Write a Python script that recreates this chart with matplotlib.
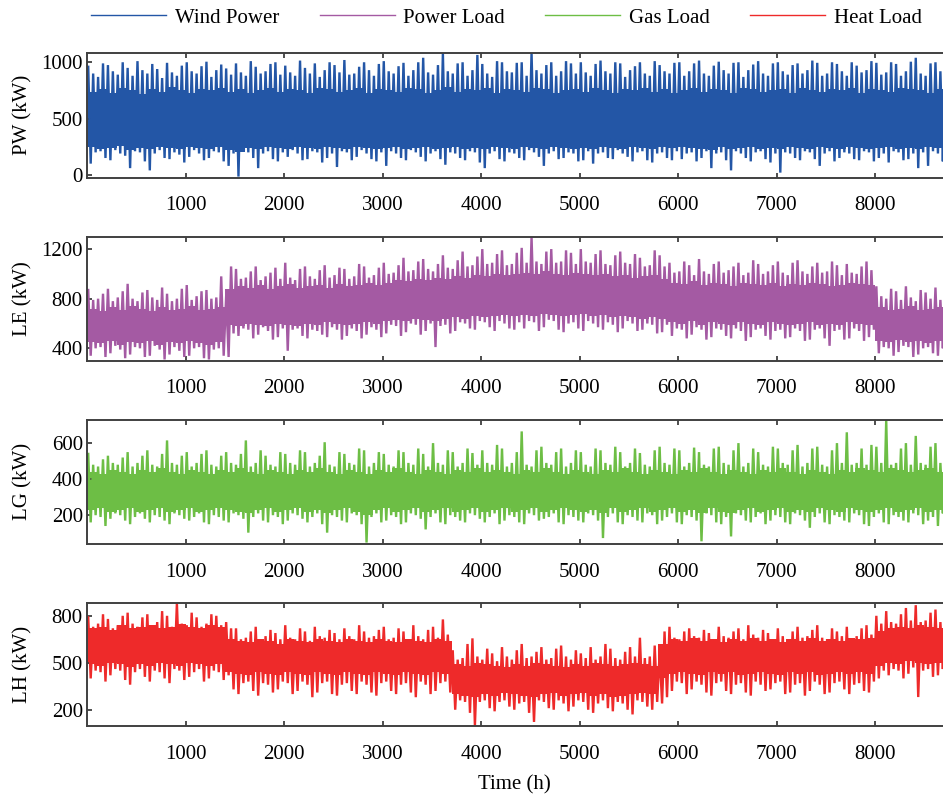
import numpy as np
import matplotlib
matplotlib.use("Agg")
import matplotlib.pyplot as plt
from matplotlib.lines import Line2D

# ---------------- data ----------------
# spike extremes per 50-hour block, dense core band per 100-hour block
spike_hours = 50
core_hours = 100

# Wind power PW (kW)
pw_hi = [960, 900, 870, 990, 975, 920, 890, 1000, 950, 880, 1010, 930, 900, 985, 940, 860, 995, 910, 880, 970,
         1000, 920, 900, 965, 1005, 870, 930, 980, 945, 890, 990, 910, 880, 1010, 960, 900, 920, 985, 1000, 890,
         970, 910, 880, 1015, 950, 900, 990, 870, 930, 1000, 975, 910, 1020, 890, 900, 960, 1000, 930, 880, 985,
         1010, 920, 900, 965, 995, 880, 930, 1000, 1040, 910, 890, 975, 1080, 920, 900, 990, 1000, 880, 930, 1065,
         985, 900, 870, 1010, 1000, 920, 910, 995, 1000, 880, 1085, 930, 900, 975, 1000, 880, 920, 1010, 990, 900,
         1000, 910, 880, 985, 1015, 920, 900, 1000, 990, 870, 930, 965, 1000, 900, 880, 1010, 975, 920, 900, 995,
         1000, 880, 920, 990, 1015, 900, 880, 970, 1005, 930, 900, 995, 1000, 870, 930, 980, 1010, 900, 880, 990,
         1000, 920, 890, 975, 990, 900, 930, 1015, 995, 880, 900, 1000, 985, 920, 880, 1000, 970, 910, 930, 1010,
         995, 890, 910, 1000, 985, 880, 920, 1005, 1040, 900, 880, 990, 1000, 920, 910, 1005]
pw_lo = [100, 200, 210, 150, 130, 220, 190, 170, 60, 210, 200, 120, 40, 190, 220, 150, 140, 200, 180, 110,
         160, 220, 190, 130, 150, 210, 200, 120, 80, 190, -15, 210, 200, 150, 60, 190, 210, 140, 120, 200,
         160, 220, 190, 130, 140, 210, 200, 110, 150, 190, 70, 210, 200, 130, 160, 220, 190, 140, 120, 200,
         80, 210, 190, 150, 130, 220, 200, 160, 120, 190, 210, 140, 90, 200, 190, 150, 130, 210, 200, 110,
         60, 190, 210, 140, 120, 200, 190, 150, 130, 220, 200, 160, 80, 190, 210, 140, 150, 200, 190, 120,
         130, 210, 100, 190, 200, 150, 140, 220, 190, 160, 120, 200, 210, 130, 110, 190, 200, 150, 130, 210,
         140, 190, 200, 120, 150, 210, 60, 190, 200, 130, 40, 210, 190, 150, 120, 200, 210, 140, 110, 190,
         20, 200, 190, 150, 130, 210, 200, 140, 80, 190, 210, 120, 150, 200, 190, 140, 130, 210, 200, 120,
         150, 190, 110, 210, 200, 130, 140, 190, 60, 200, 80, 210, 190, 120, 150, 200]
pw_core_hi = [740, 760, 730, 770, 750, 720, 760, 740, 780, 750,
              730, 760, 750, 770, 740, 760, 730, 750, 770, 740,
              760, 750, 730, 770, 760, 740, 750, 770, 730, 760,
              750, 740, 770, 760, 730, 750, 780, 740, 760, 750,
              770, 730, 760, 750, 740, 770, 760, 730, 750, 760,
              740, 770, 750, 730, 760, 750, 770, 740, 760, 730,
              750, 770, 740, 760, 750, 730, 770, 760, 740, 750,
              760, 730, 770, 750, 740, 760, 750, 770, 730, 760,
              750, 740, 770, 760, 750, 730, 760, 750]
pw_core_lo = [250, 230, 240, 260, 220, 240, 230, 250, 240, 230,
              250, 240, 230, 250, 220, 200, 240, 230, 250, 240,
              230, 250, 240, 230, 250, 240, 230, 250, 240, 230,
              240, 250, 230, 240, 250, 230, 240, 250, 230, 240,
              230, 250, 240, 230, 250, 240, 230, 250, 240, 230,
              240, 230, 250, 240, 230, 250, 240, 230, 250, 240,
              250, 240, 230, 220, 250, 230, 240, 250, 230, 240,
              230, 250, 240, 230, 250, 240, 230, 250, 240, 230,
              240, 250, 230, 240, 230, 250, 240, 230]

# Power load LE (kW)
le_hi = [870, 790, 800, 840, 880, 780, 810, 860, 920, 800, 780, 850, 870, 810,
         790, 890, 840, 780, 800, 880, 910, 790, 820, 860, 870, 800, 810, 980,
         820, 1060,
         1040, 960, 970, 1020, 1060, 950, 980, 1010, 1050, 960, 1090, 970, 950, 1040, 1060, 980,
         960, 1030, 1070, 970, 990, 1050, 1040, 960, 980, 1080, 1060, 970, 990, 1050,
         1090, 1000, 1010, 1070, 1130, 1020, 1030, 1100, 1120, 1040, 1020, 1080, 1150, 1050,
         1040, 1110, 1180, 1060, 1070, 1140, 1200, 1080, 1090, 1160, 1190, 1070, 1080, 1170,
         1210, 1090, 1300, 1100, 1080, 1180, 1200, 1090, 1100, 1190, 1170, 1080, 1200, 1100, 1090, 1160,
         1190, 1080, 1070, 1150, 1180, 1090, 1080, 1160, 1130, 1060, 1070, 1190, 1150, 1060,
         1090, 1010, 1020, 1100, 1070, 990, 1120, 1020, 1000, 1080, 1100, 1010, 1030, 1060, 1090, 990,
         1010, 1110, 1080, 1000, 1020, 1070, 1100, 1010, 990, 1090, 1110, 1020, 1000, 1060, 1090, 1010,
         1020, 1100, 1070, 990, 1080, 1010, 1000, 1060, 1100, 1030,
         900, 820, 800, 880, 860, 790, 900, 810, 780, 870, 850, 800, 890, 790, 810, 870]
le_lo = [340, 400, 410, 330, 360, 420, 390, 320, 350, 410, 400, 330, 340, 420,
         390, 310, 350, 410, 380, 330, 340, 400, 410, 320, 310, 390, 400, 340,
         330, 520,
         500, 560, 550, 480, 510, 570, 540, 470, 490, 560, 380, 550, 560, 500, 480, 550,
         540, 510, 490, 570, 550, 470, 500, 560, 540, 480, 510, 570, 550, 490,
         520, 590, 580, 500, 530, 600, 590, 510, 540, 600, 410, 580, 590, 520,
         540, 610, 600, 560, 550, 620, 610, 570, 540, 620, 600, 560, 550, 610,
         560, 620, 610, 540, 570, 630, 620, 550, 530, 600, 610, 560, 540, 620, 600, 570,
         550, 610, 590, 530, 560, 620, 600, 540, 550, 600, 590, 520, 530, 590,
         500, 560, 550, 480, 510, 570, 550, 470, 490, 560, 550, 500, 480, 560, 540, 460,
         490, 550, 560, 500, 470, 540, 550, 480, 490, 560, 540, 460, 470, 550, 560, 480,
         420, 540, 550, 470, 480, 560, 540, 460, 490, 550,
         360, 410, 400, 340, 370, 420, 410, 330, 350, 400, 410, 360, 340, 400, 390, 370]
le_core_hi = [720, 700, 730, 710, 740, 720, 700, 730, 710, 720, 740, 710, 720, 730,
              880, 900, 890, 910, 880, 900, 920, 890, 900, 910, 890, 920, 900, 910, 930, 910,
              930, 950, 940, 960, 950, 970, 960, 980, 970, 990, 980, 1000, 990, 1000,
              1010, 1000, 1020, 1000, 990, 1010, 1000, 990, 1000, 980, 990, 970, 980, 990, 960,
              930, 920, 940, 910, 930, 920, 900, 930, 920, 910, 930, 900, 920, 910, 930,
              920, 900, 910, 930, 920, 910,
              730, 710, 720, 740, 710, 720, 730, 710]
le_core_lo = [450, 440, 460, 430, 450, 440, 460, 430, 450, 440, 460, 440, 430, 450,
              590, 580, 600, 590, 580, 600, 590, 580, 600, 590, 610, 600, 590, 600, 610, 600,
              620, 630, 620, 640, 630, 620, 640, 650, 640, 660, 650, 660, 670, 660,
              670, 660, 680, 670, 660, 670, 680, 660, 670, 650, 660, 650, 640, 650, 640,
              610, 600, 620, 590, 610, 600, 590, 610, 600, 590, 610, 600, 590, 600, 610,
              590, 600, 590, 610, 600, 590,
              460, 450, 470, 450, 460, 440, 460, 450]

# Gas load LG (kW)
gl_hi = [540, 480, 470, 510, 530, 490, 480, 520, 550, 470, 490, 530, 560, 480, 470, 540, 615, 490, 480, 530,
         550, 470, 490, 540, 560, 480, 470, 530, 550, 490, 480, 540, 615, 470, 490, 560, 530, 480, 470, 550,
         540, 490, 480, 560, 550, 470, 490, 530, 605, 480, 470, 550, 540, 490, 480, 570, 560, 470, 490, 550,
         540, 480, 470, 560, 550, 490, 480, 570, 540, 470, 600, 490, 480, 560, 550, 470, 490, 570, 545, 480,
         560, 490, 480, 590, 570, 470, 490, 550, 665, 480, 470, 560, 580, 490, 480, 550, 570, 470, 490, 560,
         550, 480, 470, 570, 560, 490, 480, 580, 550, 470, 490, 570, 545, 480, 470, 560, 580, 490, 480, 570,
         560, 470, 490, 575, 550, 480, 470, 570, 580, 490, 480, 560, 600, 470, 490, 570, 550, 480, 470, 580,
         570, 490, 480, 560, 590, 470, 490, 570, 580, 480, 470, 560, 600, 490, 660, 480, 490, 570, 480, 590,
         580, 490, 730, 480, 490, 570, 600, 480, 640, 490, 480, 580, 600, 490, 500, 620]
gl_lo = [160, 200, 190, 140, 180, 210, 200, 170, 150, 190, 210, 180, 160, 200, 190, 170, 150, 210, 200, 180,
         170, 190, 210, 160, 150, 200, 190, 170, 160, 210, 200, 180, 103, 190, 210, 170, 160, 200, 190, 150,
         170, 210, 200, 180, 160, 190, 210, 150, 103, 200, 190, 170, 160, 210, 200, 150, 48, 190, 210, 160,
         170, 200, 190, 150, 160, 210, 200, 180, 121, 190, 210, 160, 150, 200, 190, 170, 160, 210, 200, 180,
         160, 190, 210, 150, 170, 200, 190, 160, 150, 210, 200, 170, 180, 190, 210, 160, 150, 200, 190, 170,
         160, 210, 200, 170, 73, 190, 210, 160, 150, 200, 190, 170, 160, 210, 200, 150, 170, 190, 210, 160,
         150, 200, 190, 170, 55, 210, 200, 160, 150, 190, 82, 210, 200, 170, 160, 190, 210, 150, 170, 200,
         190, 160, 150, 210, 200, 170, 130, 190, 210, 160, 150, 200, 190, 170, 160, 210, 200, 150, 140, 190,
         210, 160, 150, 200, 190, 170, 160, 210, 200, 150, 170, 190, 140, 210, 200, 160]
gl_core_hi = [440, 430, 450, 440, 430, 450, 440, 460, 440, 430,
              450, 440, 430, 450, 440, 460, 440, 430, 450, 440,
              430, 450, 440, 460, 440, 430, 450, 440, 430, 450,
              440, 460, 440, 430, 450, 440, 430, 450, 440, 460,
              440, 450, 440, 430, 450, 440, 460, 440, 430, 450,
              440, 430, 450, 440, 460, 440, 430, 450, 440, 430,
              450, 440, 460, 440, 430, 450, 440, 430, 450, 440,
              460, 440, 430, 450, 440, 430, 450, 440, 460, 450,
              440, 460, 450, 440, 450, 460, 440, 450]
gl_core_lo = [230, 240, 220, 230, 240, 220, 230, 240, 220, 230,
              240, 220, 230, 240, 230, 220, 210, 230, 240, 220,
              230, 240, 220, 230, 210, 230, 240, 220, 200, 230,
              240, 220, 230, 240, 220, 230, 240, 220, 230, 240,
              220, 230, 240, 220, 230, 240, 220, 230, 240, 230,
              220, 230, 210, 240, 220, 230, 240, 220, 230, 240,
              220, 230, 210, 240, 220, 210, 230, 240, 220, 230,
              240, 220, 230, 220, 240, 230, 220, 240, 230, 220,
              230, 240, 220, 230, 240, 220, 230, 240]

# Heat load LH (kW)
lh_hi = [790, 730, 750, 810, 780, 720, 740, 800, 820, 750, 730, 790, 810, 740,
         760, 830, 800, 730, 880, 750, 740, 820, 790, 730, 750, 810, 800, 740,
         760, 720,
         720, 650, 660, 700, 730, 640, 670, 710, 690, 650, 740, 660, 650, 720, 700, 640,
         730, 670, 660, 710, 690, 650, 720, 670, 650, 740, 700, 660, 670, 710, 730, 650,
         660, 720, 700, 640, 740, 670, 650, 710, 730, 660, 777, 680,
         580, 520, 530, 620, 656, 540, 520, 590, 560, 510, 600, 540, 520, 580, 620, 530,
         540, 570, 600, 520, 530, 590, 610, 540, 520, 580, 560, 530, 600, 520, 540, 620,
         590, 530, 520, 570, 600, 540, 660, 530, 540, 610,
         560, 700,
         730, 660, 650, 700, 720, 670, 660, 710, 690, 650, 730, 670, 660, 700, 720, 650,
         740, 680, 660, 710, 690, 650, 720, 670, 650, 700, 730, 660, 670, 710, 740, 660,
         650, 720, 700, 670, 730, 650, 670, 720, 740, 680,
         800, 750, 830, 760, 750, 810, 850, 770, 868, 760, 770, 820, 840, 760, 760, 810]
lh_lo = [400, 450, 440, 380, 420, 460, 450, 390, 360, 440, 460, 410, 380, 450,
         440, 400, 370, 460, 450, 390, 410, 440, 460, 380, 400, 450, 440, 390,
         420, 330,
         300, 370, 380, 320, 290, 370, 360, 310, 330, 380, 370, 300, 320, 380, 360, 280,
         310, 370, 380, 300, 290, 360, 370, 320, 300, 380, 360, 310, 290, 370, 380, 320,
         300, 360, 370, 310, 280, 380, 360, 300, 320, 370, 380, 310,
         200, 260, 250, 180, 98, 250, 260, 210, 190, 250, 260, 220, 200, 240, 250, 180,
         122, 260, 250, 210, 200, 260, 240, 190, 220, 260, 250, 200, 180, 240, 260, 210,
         190, 250, 240, 200, 170, 260, 250, 220, 200, 250,
         240, 280,
         320, 380, 370, 300, 330, 380, 360, 310, 290, 370, 380, 320, 300, 360, 370, 310,
         290, 380, 360, 320, 330, 370, 380, 300, 310, 360, 370, 290, 320, 380, 360, 300,
         310, 370, 380, 330, 300, 360, 370, 320, 310, 380,
         400, 450, 420, 460, 450, 400, 430, 470, 281, 450, 460, 410, 420, 460, 450, 400]
lh_core_hi = [720, 730, 710, 740, 720, 730, 740, 720, 730, 750, 730, 720, 740, 730,
              650, 640, 630, 650, 640, 620, 650, 640, 630, 650, 640, 630, 650, 640, 630, 650, 640, 630, 650, 640, 630, 650, 640,
              490, 480, 500, 490, 480, 470, 490, 480, 500, 490, 480, 470, 490, 480, 500, 490, 480, 490, 500, 490, 480,
              620,
              650, 640, 660, 640, 650, 630, 650, 640, 660, 640, 650, 630, 650, 640, 660, 640, 650, 640, 660, 650, 660,
              700, 720, 730, 720, 740, 730, 720, 730]
lh_core_lo = [490, 480, 500, 490, 470, 490, 480, 500, 490, 480, 500, 490, 480, 490,
              440, 430, 420, 440, 430, 420, 440, 430, 420, 440, 430, 420, 440, 430, 420, 440, 430, 420, 440, 430, 420, 440, 430,
              300, 290, 280, 300, 290, 310, 300, 290, 280, 300, 310, 290, 300, 310, 290, 300, 280, 290, 300, 310, 300,
              400,
              430, 440, 430, 420, 440, 430, 440, 420, 430, 440, 430, 420, 440, 430, 440, 420, 430, 440, 430, 440, 430,
              480, 500, 490, 510, 500, 490, 500, 490]

series_names = ["Wind Power", "Power Load", "Gas Load", "Heat Load"]
y_labels = ["PW (kW)", "LE (kW)", "LG (kW)", "LH (kW)"]
colors = ["#2356A6", "#A45AA3", "#6DBE45", "#EE2A2A"]
y_limits = [(-25, 1085), (300, 1300), (40, 730), (96, 880)]
y_ticks = [[0, 500, 1000], [400, 800, 1200], [200, 400, 600], [200, 500, 800]]
x_ticks = [1000, 2000, 3000, 4000, 5000, 6000, 7000, 8000]
x_max = 8760

all_hi = [pw_hi, le_hi, gl_hi, lh_hi]
all_lo = [pw_lo, le_lo, gl_lo, lh_lo]
all_core_hi = [pw_core_hi, le_core_hi, gl_core_hi, lh_core_hi]
all_core_lo = [pw_core_lo, le_core_lo, gl_core_lo, lh_core_lo]

# ---------------- figure ----------------
plt.rcParams['font.family'] = ['Liberation Serif', 'DejaVu Serif']
FS = 15
W, H = 943, 798
fig = plt.figure(figsize=(W / 100, H / 100), dpi=100)

panels_px = [(52.7, 177.7), (236.7, 360.7), (419.7, 544.0), (603.3, 726.0)]
left_px, right_px = 87, 950
spine_col = "#404040"

for i in range(4):
    top, bot = panels_px[i]
    ax = fig.add_axes([left_px / W, 1 - bot / H, (right_px - left_px) / W, (bot - top) / H])
    c = colors[i]
    chi = np.asarray(all_core_hi[i], float)
    clo = np.asarray(all_core_lo[i], float)
    edges = np.arange(len(chi) + 1) * core_hours
    ax.fill_between(edges, np.append(clo, clo[-1]), np.append(chi, chi[-1]),
                    step='post', color=c, linewidth=0)
    hi = np.asarray(all_hi[i], float)
    lo = np.asarray(all_lo[i], float)
    starts = np.arange(len(hi)) * spike_hours
    xz = np.column_stack((starts + spike_hours * 0.25, starts + spike_hours * 0.75)).ravel()
    yz = np.column_stack((hi, lo)).ravel()
    ax.plot(xz, yz, color=c, linewidth=1.7, solid_joinstyle='miter')
    ax.set_xlim(0, x_max)
    ax.set_ylim(*y_limits[i])
    ax.set_xticks(x_ticks)
    ax.set_yticks(y_ticks[i])
    ax.tick_params(direction='in', length=3.6, width=1.3, colors=spine_col,
                   labelcolor='black', labelsize=FS, top=True, right=True)
    ax.tick_params(axis='x', pad=13.5)
    ax.tick_params(axis='y', pad=3)
    for s in ax.spines.values():
        s.set_color(spine_col)
        s.set_linewidth(1.4)
        s.set_zorder(5)
    ax.set_ylabel(y_labels[i], fontsize=FS)
    ax.yaxis.set_label_coords(-0.063, 0.5)

fig.text(514 / W, 1 - 785 / H, "Time (h)", ha='center', va='center', fontsize=FS)

handles = [Line2D([0], [0], color=c, linewidth=1.0) for c in colors]
fig.legend(handles, series_names, loc='center', bbox_to_anchor=(506.5 / W, 1 - 18 / H),
           ncol=4, frameon=False, fontsize=FS, handlelength=3.6, handletextpad=0.4,
           columnspacing=1.95, borderaxespad=0, borderpad=0)

fig.savefig("out.png", dpi=100)
